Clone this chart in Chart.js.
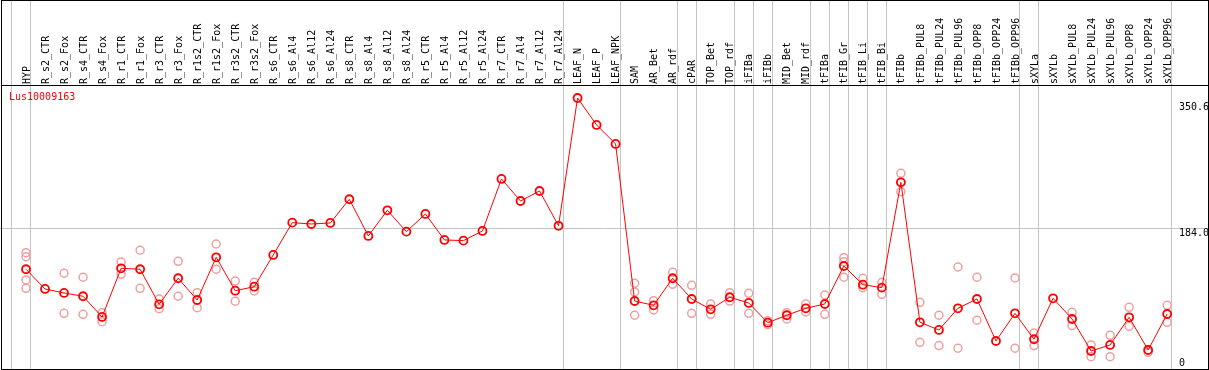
<!DOCTYPE html>
<html>
<head>
<meta charset="utf-8">
<script src="https://cdn.jsdelivr.net/npm/chart.js@4.4.1/dist/chart.umd.min.js"></script>
<style>
  body{ margin:0; background:#fff; }
  #wrap{ width:1209px; height:370px; }
</style>
</head>
<body>
<div id="wrap"><canvas id="chart" width="1209" height="370"></canvas></div>
<script>
// data
const geneName = 'Lus10009163';
const categories = ['HYP','R_s2_CTR','R_s2_Fox','R_s4_CTR','R_s4_Fox','R_r1_CTR','R_r1_Fox','R_r3_CTR','R_r3_Fox',
  'R_r1s2_CTR','R_r1s2_Fox','R_r3s2_CTR','R_r3s2_Fox','R_s6_CTR','R_s6_Al4','R_s6_Al12','R_s6_Al24',
  'R_s8_CTR','R_s8_Al4','R_s8_Al12','R_s8_Al24','R_r5_CTR','R_r5_Al4','R_r5_Al12','R_r5_Al24',
  'R_r7_CTR','R_r7_Al4','R_r7_Al12','R_r7_Al24','LEAF_N','LEAF_P','LEAF_NPK','SAM','AR_Bet','AR_rdf',
  'cPAR','TOP_Bet','TOP_rdf','iFIBa','iFIBb','MID_Bet','MID_rdf','tFIBa','tFIB_Gr','tFIB_Li','tFIB_Bi',
  'tFIBb','tFIBb_PUL8','tFIBb_PUL24','tFIBb_PUL96','tFIBb_OPP8','tFIBb_OPP24','tFIBb_OPP96',
  'sXYLa','sXYLb','sXYLb_PUL8','sXYLb_PUL24','sXYLb_PUL96','sXYLb_OPP8','sXYLb_OPP24','sXYLb_OPP96'];

const means = [131.6,106.4,101.3,97.1,70.6,132.8,131.6,86.8,120.1,
  92.3,146.9,104.2,109.3,149.9,191.2,189.5,190.8,
  221.1,174.2,207.0,179.7,202.3,169.1,168.2,180.6,
  247.1,218.9,231.7,187.2,350.6,316.1,291.8,91.0,85.5,120.1,
  93.6,80.4,95.8,88.5,63.3,72.8,81.7,87.2,135.8,111.9,108.1,
  242.8,63.8,54.0,81.7,93.6,39.9,75.3,
  42.1,94.5,68.0,27.1,34.8,70.2,28.4,74.4];

// individual replicate values per category
const replicates = [
  [152.8,147.7,117.9,107.3],[],[126.5,75.3],[121.4,74.0],[76.1,64.6],[140.9,125.2],[155.9,107.3],[93.6,81.2],[141.8,97.1],
  [101.7,82.5],[163.9,131.6],[116.6,90.7],[115.0,103.8],[],[],[],[],
  [],[],[],[],[],[],[],[],
  [],[],[],[],[],[],[],[113.7,102.6,72.8],[91.4,79.5],[127.7,112.4],
  [111.1,75.3],[87.2,74.0],[101.7,91.0],[100.9,75.3],[65.9,60.7],[76.1,68.0],[87.2,77.0],[98.7,74.0],[146.4,141.3,121.4],[120.1,108.1],[115.0,99.6],
  [254.3,230.8],[89.4,38.2],[72.8,34.1],[134.5,30.6],[121.4,66.4],[],[120.5,30.6],
  [50.1,34.1],[],[76.6,59.5],[34.8,19.8],[47.2,19.8],[83.0,58.7],[25.4],[85.5,63.8]];

// last category index of each group (-1 = start)
const groupEnds = [-1,0,28,31,34,35,37,38,39,41,42,43,44,45,52,53,60];

const yTickValues = [0,184.0,350.6];
const yTickLabels = ['0','184.0','350.6'];

const FONT = '10px "DejaVu Sans Mono", monospace';

const meanPoints = means.map((v,i)=>({x:i, y:v}));
const repPoints = [];
replicates.forEach((arr,i)=> arr.forEach(v=> repPoints.push({x:i, y:v})));

const framePlugin = {
  id:'frame',
  beforeDatasetsDraw(chart){
    const ctx = chart.ctx, x = chart.scales.x;
    ctx.save();
    ctx.strokeStyle = '#c4c4c4';
    ctx.lineWidth = 1;
    groupEnds.forEach(g=>{
      const px = Math.round(x.getPixelForValue(g + 0.21)) + 0.5;
      ctx.beginPath(); ctx.moveTo(px, 0); ctx.lineTo(px, 369); ctx.stroke();
    });
    ctx.restore();
  },
  afterDraw(chart){
    const ctx = chart.ctx, y = chart.scales.y, area = chart.chartArea;
    ctx.save();
    ctx.strokeStyle = '#000';
    ctx.lineWidth = 1;
    ctx.strokeRect(1.5, 0.5, 1207, 369);
    ctx.beginPath(); ctx.moveTo(1, 85.5); ctx.lineTo(1208, 85.5); ctx.stroke();

    ctx.font = FONT;
    ctx.fillStyle = '#000';
    ctx.textAlign = 'left';
    ctx.textBaseline = 'top';
    yTickValues.forEach((v,i)=>{
      let py = y.getPixelForValue(v);
      py = Math.min(Math.max(py, area.top + 17), area.bottom - 12);
      ctx.fillText(yTickLabels[i], 1179, py);
    });

    ctx.fillStyle = '#ff0000';
    ctx.textBaseline = 'middle';
    ctx.fillText(geneName, 9, 97);
    ctx.restore();
  }
};

new Chart(document.getElementById('chart'), {
  type:'line',
  data:{
    datasets:[
      { label:'mean', data:meanPoints, borderColor:'#ff0000', borderWidth:1, tension:0,
        pointRadius:4, pointBorderWidth:1.8, pointBorderColor:'#ff0000', pointBackgroundColor:'rgba(0,0,0,0)' },
      { label:'replicates', data:repPoints, showLine:false,
        pointRadius:4, pointBorderWidth:1.5, pointBorderColor:'#eea0a0', pointBackgroundColor:'rgba(0,0,0,0)' }
    ]
  },
  options:{
    responsive:false, animation:false, devicePixelRatio:1,
    layout:{ padding:0, autoPadding:false },
    plugins:{ legend:{display:false}, tooltip:{enabled:false} },
    scales:{
      x:{
        type:'linear', position:'top', min:-1.367, max:62.2,
        afterBuildTicks: s => { s.ticks = categories.map((c,i)=>({value:i})); },
        afterFit: s => { s.height = 85; },
        grid:{ display:false, drawTicks:false }, border:{ display:false },
        ticks:{ autoSkip:false, minRotation:90, maxRotation:90, padding:1, labelOffset:13, color:'#000',
          font:{family:'"DejaVu Sans Mono", monospace', size:10},
          callback: (v,i) => categories[i] }
      },
      y:{
        type:'linear', position:'right', min:2.8, max:367.2,
        afterBuildTicks: s => { s.ticks = [{value:yTickValues[1]}]; },
        afterFit: s => { s.width = 0; },
        grid:{ color:'#c4c4c4', drawTicks:false }, border:{ display:false },
        ticks:{ display:false }
      }
    }
  },
  plugins:[framePlugin]
});
</script>
</body>
</html>
